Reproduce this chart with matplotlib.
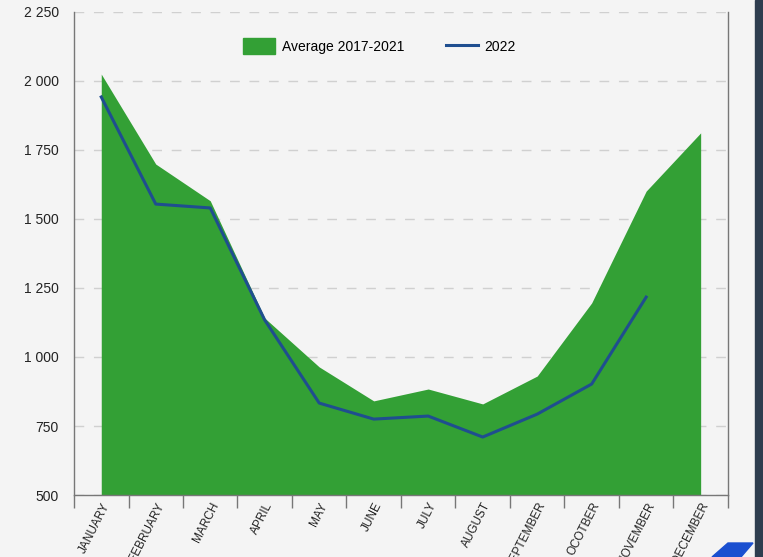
import matplotlib
matplotlib.use('Agg')
import matplotlib.pyplot as plt
from matplotlib.patches import Patch, Polygon, Rectangle
from matplotlib.lines import Line2D
from matplotlib.ticker import FuncFormatter, FixedLocator

months = ['JANUARY', 'FEBRUARY', 'MARCH', 'APRIL', 'MAY', 'JUNE', 'JULY',
          'AUGUST', 'SEPTEMBER', 'OCOTBER', 'NOVEMBER', 'DECEMBER']
avg_2017_2021 = [2025, 1699, 1566, 1141, 964, 841, 884, 830, 931, 1196, 1601, 1812]
y2022 = [1942, 1554, 1540, 1134, 833, 775, 786, 710, 793, 902, 1217]

plt.rcParams['font.family'] = ['Liberation Sans', 'DejaVu Sans']

bg = '#f4f4f4'
green = '#33a035'
blue = '#1f4e8f'

fig = plt.figure(figsize=(7.63, 5.57), dpi=100, facecolor=bg)
ax = fig.add_axes([0.097, 0.1113, 0.857, 0.8672])
ax.set_facecolor(bg)

x = list(range(len(months)))
ax.fill_between(x, 500, avg_2017_2021, color=green, linewidth=0, zorder=2)
ax.plot(x[:len(y2022)], y2022, color=blue, linewidth=2.2, zorder=3)

ax.set_xlim(-0.5, 11.5)
ax.set_ylim(500, 2250)
ax.set_yticks([500, 750, 1000, 1250, 1500, 1750, 2000, 2250])
ax.yaxis.set_major_formatter(FuncFormatter(lambda v, p: f'{int(v):,}'.replace(',', ' ')))
ax.tick_params(axis='y', length=0, pad=11, labelsize=10, labelcolor='#222222')
ax.grid(axis='y', color='#d0d0d0', linestyle=(0, (7, 7)), linewidth=1, zorder=1)

ax.set_xticks(x)
ax.set_xticklabels(months, rotation=63, ha='right', rotation_mode='anchor',
                   fontsize=8.5, color='#222222')
ax.tick_params(axis='x', which='major', length=0, pad=4)
ax.xaxis.set_minor_locator(FixedLocator([i - 0.5 for i in range(13)]))
ax.tick_params(axis='x', which='minor', length=9, color='#777777', width=1)

for s in ['left', 'right', 'bottom']:
    ax.spines[s].set_color('#777777')
    ax.spines[s].set_linewidth(1)
ax.spines['top'].set_visible(False)

handles = [Patch(facecolor=green, edgecolor=green, label='Average 2017-2021'),
           Line2D([0], [0], color=blue, linewidth=2.2, label='2022')]
fig.legend(handles=handles, loc='center left', bbox_to_anchor=(240 / 763, 1 - 46 / 557),
           ncol=2, frameon=False, fontsize=10, handlelength=2.3, handleheight=1.3,
           columnspacing=3.0, handletextpad=0.5, borderaxespad=0, borderpad=0.2)

# dark band and blue mark at right edge
fig.patches.append(Rectangle((755 / 763, 0), 8 / 763, 1, transform=fig.transFigure,
                             color='#2e3d4f', zorder=0))
fig.patches.append(Polygon([(712 / 763, 0), (728 / 763, 14 / 557), (753 / 763, 14 / 557),
                            (741 / 763, 0)], closed=True, transform=fig.transFigure,
                           color='#1a4fd0', zorder=0))

fig.savefig('out.png', dpi=100, facecolor=bg)
